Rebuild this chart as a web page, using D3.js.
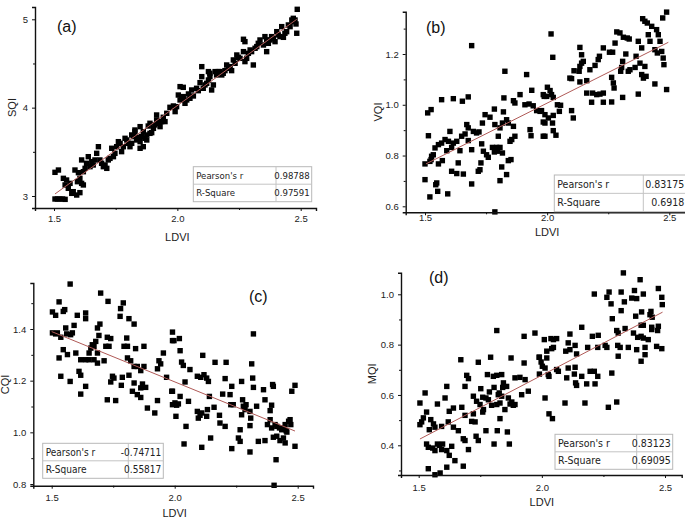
<!DOCTYPE html>
<html><head><meta charset="utf-8">
<script src="https://cdn.jsdelivr.net/npm/d3@7"></script>
<style>
html,body{margin:0;padding:0;background:#fff;}
svg{display:block;}
</style></head>
<body>
<svg id="chart" width="685" height="520"></svg>
<script>
// ---------------- DATA ----------------
const xTicks = [1.5, 2.0, 2.5];
const xMinorTicks = [1.75, 2.25];

// (a) LDVI vs SQI
const pointsA = [[1.504,2.966],[1.514,2.966],[1.524,2.966],[1.535,2.966],[1.545,2.962],[1.504,3.268],[1.518,3.294],[1.538,3.200],[1.551,3.181],[1.545,3.125],[1.558,3.087],[1.565,3.143],[1.572,3.030],[1.578,3.049],[1.592,3.011],[1.605,3.038],[1.595,3.162],[1.605,3.200],[1.612,3.143],[1.619,3.125],[1.585,3.294],[1.599,3.264],[1.612,3.408],[1.626,3.313],[1.632,3.370],[1.639,3.445],[1.619,3.275],[1.646,3.332],[1.653,3.389],[1.659,3.351],[1.666,3.408],[1.673,3.483],[1.680,3.558],[1.686,3.408],[1.693,3.370],[1.700,3.332],[1.707,3.351],[1.714,3.313],[1.720,3.408],[1.727,3.426],[1.734,3.540],[1.741,3.445],[1.747,3.483],[1.754,3.558],[1.761,3.615],[1.768,3.596],[1.774,3.502],[1.781,3.558],[1.788,3.653],[1.795,3.634],[1.801,3.596],[1.808,3.558],[1.815,3.596],[1.822,3.672],[1.828,3.728],[1.835,3.634],[1.842,3.664],[1.849,3.615],[1.855,3.672],[1.862,3.558],[1.869,3.653],[1.876,3.634],[1.849,3.540],[1.828,3.747],[1.815,3.691],[1.849,3.785],[1.862,3.728],[1.876,3.691],[1.882,3.792],[1.889,3.709],[1.896,3.717],[1.903,3.766],[1.889,3.823],[1.909,3.804],[1.916,3.860],[1.923,3.823],[1.930,3.785],[1.936,3.842],[1.916,3.917],[1.943,3.891],[1.957,3.936],[1.950,3.842],[1.970,4.004],[1.991,3.955],[1.984,4.019],[1.997,4.011],[2.011,4.087],[2.004,4.143],[2.018,4.106],[2.024,4.125],[2.031,4.049],[2.038,4.087],[2.045,4.155],[2.051,4.106],[2.011,4.238],[2.024,4.230],[2.058,4.200],[2.065,4.132],[2.078,4.219],[2.085,4.192],[2.092,4.283],[2.099,4.351],[2.105,4.219],[2.112,4.257],[2.119,4.275],[2.126,4.313],[2.132,4.351],[2.139,4.200],[2.146,4.257],[2.126,4.408],[2.132,4.389],[2.153,4.408],[2.159,4.370],[2.166,4.408],[2.173,4.408],[2.180,4.370],[2.186,4.389],[2.193,4.419],[2.200,4.483],[2.207,4.445],[2.214,4.464],[2.220,4.419],[2.227,4.540],[2.234,4.502],[2.241,4.596],[2.247,4.570],[2.254,4.558],[2.268,4.634],[2.274,4.521],[2.281,4.558],[2.288,4.615],[2.268,4.774],[2.274,4.747],[2.295,4.653],[2.301,4.634],[2.308,4.483],[2.315,4.672],[2.322,4.691],[2.328,4.728],[2.335,4.766],[2.349,4.709],[2.355,4.804],[2.362,4.766],[2.369,4.728],[2.362,4.634],[2.376,4.766],[2.382,4.804],[2.389,4.785],[2.396,4.747],[2.403,4.860],[2.409,4.823],[2.416,4.804],[2.423,4.917],[2.430,4.796],[2.436,4.842],[2.443,4.860],[2.450,4.936],[2.457,4.917],[2.464,4.992],[2.470,4.974],[2.477,4.992],[2.481,4.947],[2.486,5.113],[2.484,4.842],[2.470,5.011],[2.099,4.464]];
const fitA = [[1.504,3.023],[2.484,5.0]];
const yTicksA = [3, 4, 5];
const yMinorA = [3.5, 4.5];
const statsA = [["Pearson's r","0.98788"],["R-Square","0.97591"]];

// (b) LDVI vs VQI
const pointsB = [[1.691,1.233],[1.827,1.132],[1.916,1.119],[1.937,1.057],[1.511,0.968],[1.525,0.981],[1.568,1.020],[1.616,1.024],[1.653,1.014],[1.677,1.031],[1.823,1.027],[1.862,1.016],[1.868,1.007],[1.889,1.040],[1.909,1.000],[1.926,1.003],[1.943,0.996],[1.957,0.977],[1.971,0.974],[1.988,1.033],[1.514,0.878],[1.746,0.961],[1.766,0.951],[1.784,0.983],[1.821,0.972],[1.834,0.941],[1.817,0.928],[1.841,0.928],[1.807,0.909],[1.862,0.915],[1.786,0.922],[1.602,0.895],[1.671,0.922],[1.677,0.909],[1.664,0.885],[1.650,0.876],[1.630,0.856],[1.616,0.849],[1.596,0.856],[1.582,0.863],[1.568,0.849],[1.555,0.843],[1.541,0.830],[1.534,0.803],[1.527,0.797],[1.589,0.819],[1.609,0.832],[1.643,0.819],[1.677,0.859],[1.691,0.823],[1.698,0.895],[1.711,0.889],[1.721,0.893],[1.735,0.928],[1.732,0.846],[1.739,0.817],[1.752,0.803],[1.759,0.793],[1.776,0.832],[1.784,0.814],[1.797,0.817],[1.793,0.832],[1.807,0.832],[1.817,0.810],[1.800,0.876],[1.848,0.856],[1.855,0.863],[1.868,0.876],[1.930,0.902],[1.934,0.878],[1.984,0.876],[1.984,0.932],[1.500,0.767],[1.520,0.777],[1.525,0.784],[1.555,0.767],[1.571,0.780],[1.609,0.738],[1.630,0.729],[1.636,0.771],[1.657,0.727],[1.691,0.688],[1.718,0.738],[1.729,0.771],[1.725,0.744],[1.814,0.755],[1.834,0.725],[1.841,0.780],[1.852,0.784],[1.807,0.701],[1.548,0.692],[1.544,0.685],[1.500,0.705],[1.552,0.659],[1.520,0.637],[1.593,0.649],[1.786,0.578],
[2.016,1.279],[2.023,1.187],[2.134,1.226],[2.141,1.197],[2.148,1.171],[2.134,1.151],[2.131,1.132],[2.141,1.164],[2.110,1.134],[2.093,1.105],[2.100,1.103],[2.134,1.090],[2.162,1.095],[2.175,1.138],[2.196,1.155],[2.209,1.178],[2.214,1.191],[2.230,1.224],[2.255,1.207],[2.268,1.207],[2.278,1.243],[2.285,1.287],[2.298,1.283],[2.312,1.266],[2.328,1.263],[2.336,1.259],[2.322,1.200],[2.309,1.171],[2.305,1.147],[2.301,1.132],[2.332,1.132],[2.339,1.138],[2.360,1.147],[2.364,1.191],[2.373,1.250],[2.387,1.224],[2.391,1.339],[2.400,1.329],[2.410,1.322],[2.414,1.276],[2.421,1.250],[2.428,1.309],[2.448,1.296],[2.455,1.276],[2.441,1.217],[2.451,1.204],[2.462,1.250],[2.469,1.210],[2.475,1.184],[2.478,1.158],[2.473,1.342],[2.489,1.365],[2.380,1.164],[2.400,1.151],[2.405,1.112],[2.387,1.119],[2.394,1.105],[2.441,1.082],[2.489,1.060],[2.373,1.042],[2.309,1.029],[2.264,1.108],[2.271,1.086],[2.274,1.066],[2.264,1.011],[2.230,1.010],[2.216,1.042],[2.182,1.010],[2.186,1.046],[2.203,1.040],[2.230,1.046],[2.162,1.046],[2.001,1.069],[2.012,1.056],[1.998,1.033],[1.984,1.040],[2.018,1.040],[2.025,1.029],[2.042,1.000],[2.055,0.998],[2.050,0.974],[1.977,0.977],[1.991,0.961],[2.005,0.948],[2.025,0.958],[1.991,0.928],[2.022,0.928],[2.025,0.898],[2.036,0.880],[1.991,0.876],[2.100,0.977],[2.107,0.948]];
const fitB = [[1.504,0.767],[2.496,1.246]];
const yTicksB = [0.6, 0.8, 1.0, 1.2];
const yMinorB = [0.7, 0.9, 1.1, 1.3];
const statsB = [["Pearson's r","0.83175"],["R-Square","0.6918"]];

// (c) LDVI vs CQI
const pointsC = [[1.575,1.574],[1.699,1.539],[1.729,1.507],[1.791,1.501],[1.530,1.505],[1.503,1.466],[1.516,1.453],[1.547,1.468],[1.553,1.475],[1.604,1.453],[1.638,1.462],[1.638,1.440],[1.780,1.479],[1.778,1.449],[1.814,1.440],[1.835,1.419],[1.696,1.419],[1.686,1.404],[1.591,1.414],[1.557,1.404],[1.503,1.385],[1.516,1.381],[1.523,1.385],[1.537,1.368],[1.561,1.381],[1.577,1.378],[1.584,1.385],[1.692,1.375],[1.679,1.352],[1.665,1.339],[1.672,1.333],[1.726,1.368],[1.740,1.363],[1.720,1.333],[1.733,1.333],[1.794,1.333],[1.808,1.333],[1.841,1.324],[1.875,1.333],[1.805,1.365],[1.686,1.307],[1.659,1.326],[1.652,1.307],[1.598,1.307],[1.564,1.301],[1.547,1.320],[1.530,1.288],[1.618,1.281],[1.638,1.281],[1.652,1.281],[1.672,1.281],[1.686,1.268],[1.713,1.277],[1.808,1.288],[1.821,1.277],[1.835,1.255],[1.848,1.255],[1.862,1.239],[1.875,1.255],[1.936,1.277],[1.943,1.265],[1.954,1.307],[1.930,1.246],[1.967,1.213],[1.991,1.388],[1.991,1.355],[1.611,1.236],[1.618,1.221],[1.537,1.217],[1.575,1.197],[1.638,1.178],[1.618,1.148],[1.747,1.217],[1.753,1.210],[1.740,1.195],[1.787,1.213],[1.814,1.221],[1.783,1.182],[1.835,1.191],[1.828,1.159],[1.848,1.146],[1.862,1.172],[1.869,1.187],[1.862,1.135],[1.882,1.174],[1.726,1.126],[1.760,1.123],[1.889,1.094],[1.919,1.075],[1.930,1.123],[1.991,1.159],[1.991,1.107],
[1.997,1.355],[2.019,1.363],[2.022,1.316],[2.028,1.272],[2.035,1.259],[2.062,1.243],[2.092,1.217],[2.106,1.213],[2.119,1.223],[2.130,1.210],[2.137,1.197],[2.114,1.298],[2.164,1.271],[2.209,1.271],[2.205,1.208],[2.232,1.178],[2.272,1.197],[2.313,1.265],[2.317,1.210],[2.320,1.381],[2.320,1.174],[2.361,1.165],[2.398,1.185],[2.401,1.178],[2.476,1.159],[2.489,1.182],[1.988,1.159],[2.022,1.139],[2.042,1.195],[2.056,1.120],[2.001,1.114],[2.008,1.105],[2.015,1.110],[2.005,1.062],[2.046,1.023],[2.038,0.955],[2.092,1.081],[2.096,1.055],[2.103,1.066],[2.110,1.075],[2.130,1.062],[2.133,1.088],[2.141,1.139],[2.160,1.097],[2.182,1.066],[2.184,1.036],[2.195,1.148],[2.205,1.023],[2.225,1.146],[2.228,1.107],[2.238,1.107],[2.266,1.010],[2.259,0.978],[2.266,0.965],[2.276,1.126],[2.279,1.101],[2.286,1.088],[2.272,1.068],[2.290,1.107],[2.306,1.081],[2.309,1.055],[2.306,1.026],[2.333,1.101],[2.367,1.126],[2.377,1.030],[2.394,1.105],[2.388,1.049],[2.388,1.084],[2.394,1.017],[2.408,1.030],[2.415,1.023],[2.426,1.017],[2.435,1.010],[2.442,1.017],[2.449,1.030],[2.453,1.006],[2.463,1.043],[2.456,1.001],[2.469,1.049],[2.472,1.030],[2.442,0.978],[2.449,0.959],[2.428,0.968],[2.415,0.985],[2.401,0.981],[2.367,0.968],[2.340,0.965],[2.306,0.924],[2.232,0.937],[2.146,0.978],[2.110,0.942],[2.489,0.946],[2.412,0.894],[2.404,0.795]];
const fitC = [[1.5,1.39],[2.489,1.005]];
const yTicksC = [0.8, 1.0, 1.2, 1.4];
const yMinorC = [0.9, 1.1, 1.3, 1.5];
const statsC = [["Pearson's r","-0.74711"],["R-Square","0.55817"]];

// (d) LDVI vs MQI
const pointsD = [[1.817,0.856],[1.972,0.846],[1.928,0.833],[1.671,0.740],[1.742,0.730],[1.792,0.750],[1.875,0.747],[1.928,0.727],[1.990,0.750],[1.695,0.678],[1.702,0.665],[1.779,0.681],[1.803,0.674],[1.817,0.678],[1.837,0.681],[1.891,0.668],[1.911,0.670],[1.932,0.661],[1.990,0.683],[1.614,0.634],[1.688,0.634],[1.752,0.625],[1.787,0.612],[1.806,0.630],[1.827,0.608],[1.841,0.630],[1.857,0.634],[1.844,0.648],[1.526,0.608],[1.505,0.568],[1.576,0.564],[1.607,0.588],[1.641,0.548],[1.624,0.535],[1.675,0.551],[1.722,0.595],[1.735,0.575],[1.749,0.562],[1.760,0.591],[1.773,0.588],[1.783,0.581],[1.796,0.559],[1.817,0.562],[1.823,0.601],[1.830,0.568],[1.837,0.595],[1.864,0.588],[1.878,0.572],[1.884,0.559],[1.891,0.562],[1.918,0.601],[1.945,0.615],[1.532,0.532],[1.519,0.509],[1.549,0.502],[1.560,0.485],[1.566,0.472],[1.543,0.462],[1.505,0.482],[1.512,0.493],[1.593,0.475],[1.620,0.493],[1.641,0.472],[1.661,0.458],[1.688,0.519],[1.722,0.525],[1.715,0.495],[1.729,0.493],[1.763,0.542],[1.760,0.532],[1.830,0.506],[1.850,0.542],[1.871,0.564],[1.773,0.458],[1.819,0.458],[1.860,0.453],[1.681,0.426],[1.688,0.419],[1.733,0.436],[1.742,0.419],[1.702,0.383],[1.806,0.405],[1.868,0.405],[1.532,0.405],[1.539,0.392],[1.557,0.389],[1.576,0.405],[1.584,0.400],[1.597,0.405],[1.566,0.379],[1.593,0.383],[1.614,0.379],[1.634,0.396],[1.624,0.360],[1.647,0.339],[1.681,0.317],[1.614,0.313],[1.539,0.307],[1.566,0.283],[1.587,0.290],
[2.331,1.085],[2.399,1.058],[2.213,1.001],[2.273,1.009],[2.322,1.009],[2.376,1.015],[2.412,1.001],[2.473,1.023],[2.264,0.988],[2.365,0.985],[2.281,0.962],[2.335,0.970],[2.385,0.983],[2.487,0.988],[2.489,0.959],[2.322,0.935],[2.405,0.930],[2.443,0.932],[2.439,0.919],[2.381,0.913],[2.448,0.909],[2.286,0.903],[2.162,0.869],[2.010,0.820],[2.037,0.824],[2.047,0.820],[2.060,0.824],[2.114,0.842],[2.205,0.833],[2.229,0.837],[2.304,0.856],[2.310,0.846],[2.338,0.864],[2.372,0.846],[2.403,0.877],[2.412,0.877],[2.446,0.869],[2.473,0.873],[2.470,0.856],[2.389,0.829],[2.403,0.833],[2.412,0.826],[2.432,0.820],[2.446,0.860],[2.047,0.789],[2.040,0.784],[2.020,0.774],[2.107,0.807],[2.135,0.797],[2.097,0.774],[2.114,0.780],[2.141,0.763],[2.186,0.789],[2.227,0.789],[2.257,0.797],[2.264,0.789],[2.308,0.797],[2.318,0.789],[2.351,0.789],[2.385,0.780],[2.466,0.793],[2.487,0.784],[1.989,0.750],[1.997,0.731],[2.020,0.747],[2.002,0.714],[2.013,0.707],[2.026,0.681],[2.029,0.674],[2.060,0.701],[2.067,0.694],[2.107,0.707],[2.135,0.710],[2.101,0.668],[2.132,0.683],[2.137,0.648],[2.141,0.638],[2.162,0.674],[2.182,0.644],[2.196,0.694],[2.213,0.694],[2.216,0.644],[2.227,0.674],[2.284,0.687],[2.310,0.754],[2.419,0.789],[2.419,0.760],[2.403,0.734],[2.013,0.588],[2.094,0.568],[2.175,0.568],[2.270,0.551],[2.304,0.572],[2.029,0.525],[2.043,0.506]];
const fitD = [[1.505,0.425],[2.49,0.929]];
const yTicksD = [0.4, 0.6, 0.8, 1.0];
const yMinorD = [0.3, 0.5, 0.7, 0.9];
const statsD = [["Pearson's r","0.83123"],["R-Square","0.69095"]];

// ---------------- LAYOUT ----------------
const panels = [
  {pts: pointsA, fit: fitA, yt: yTicksA, ym: yMinorA, stats: statsA, yName: "SQI", tag: "(a)", yDom: [3, 5],
   left: 35, right: 316, top: 7, bottom: 208, xr: [54, 300.7], yr: [196, 19.3], xPad: 4,
   tagPos: [57, 32], yLabBase: 16, xLabY: 240.5, tbl: {x: 193.3, y: 166.7, w: 118.4, h: 35, cx: 82.7, fs: 9.5}, tickFmt: d3.format("d")},
  {pts: pointsB, fit: fitB, yt: yTicksB, ym: yMinorB, stats: statsB, yName: "VQI", tag: "(b)", yDom: [0.6, 1.2],
   left: 405.7, right: 686, top: 11.7, bottom: 212.3, xr: [425, 669.3], yr: [206.3, 54], xPad: -1.5,
   tagPos: [426, 33], yLabBase: 381.5, xLabY: 235.5, tbl: {x: 554.3, y: 175, w: 132, h: 36.7, cx: 89, fs: 10.5}, tickFmt: d3.format(".1f")},
  {pts: pointsC, fit: fitC, yt: yTicksC, ym: yMinorC, stats: statsC, yName: "CQI", tag: "(c)", yDom: [0.8, 1.4],
   left: 33.3, right: 313, top: 283, bottom: 485.7, xr: [51.7, 297.7], yr: [484, 329], xPad: 6,
   tagPos: [249, 302], yLabBase: 9, xLabY: 517, tbl: {x: 42.7, y: 443.3, w: 120.6, h: 35, cx: 85.6, fs: 10}, tickFmt: d3.format(".1f")},
  {pts: pointsD, fit: fitD, yt: yTicksD, ym: yMinorD, stats: statsD, yName: "MQI", tag: "(d)", yDom: [0.4, 1.0],
   left: 401, right: 681.7, top: 272.7, bottom: 475, xr: [418.7, 665], yr: [445.3, 294.3], xPad: 6,
   tagPos: [429, 283], yLabBase: 375.5, xLabY: 505.5, tbl: {x: 555, y: 434.3, w: 117.7, h: 35, cx: 81.7, fs: 10.5}, tickFmt: d3.format(".1f")}
];

const svg = d3.select("#chart");
const tickFont = "'Liberation Sans', Arial, sans-serif";
const narrowFont = "'Liberation Sans Narrow', 'Arial Narrow', 'DejaVu Sans Condensed', sans-serif";

panels.forEach(p => {
  const g = svg.append("g");
  const xBase = d3.scaleLinear().domain([1.5, 2.5]).range(p.xr);
  const yBase = d3.scaleLinear().domain(p.yDom).range(p.yr);
  const x = xBase.copy().domain([xBase.invert(p.left), xBase.invert(p.right)]).range([p.left, p.right]);
  const y = yBase.copy().domain([yBase.invert(p.bottom), yBase.invert(p.top)]).range([p.bottom, p.top]);

  // points
  const s = 5.4;
  g.append("g").selectAll("rect").data(p.pts).join("rect")
    .attr("x", d => x(d[0]) - s / 2).attr("y", d => y(d[1]) - s / 2)
    .attr("width", s).attr("height", s).attr("fill", "#000");

  // fit line
  g.append("line")
    .attr("x1", x(p.fit[0][0])).attr("y1", y(p.fit[0][1]))
    .attr("x2", x(p.fit[1][0])).attr("y2", y(p.fit[1][1]))
    .attr("stroke", "#b05a57").attr("stroke-width", 1);

  // x axis
  g.append("g").attr("transform", `translate(0,${p.bottom})`)
    .call(d3.axisBottom(x).tickValues(xTicks).tickFormat(d3.format(".1f")).tickSizeOuter(0).tickSize(3).tickPadding(p.xPad));
  g.append("g").attr("transform", `translate(0,${p.bottom})`)
    .call(d3.axisBottom(x).tickValues(xMinorTicks).tickFormat("").tickSizeOuter(0).tickSize(2))
    .call(a => a.select(".domain").remove());
  // y axis
  g.append("g").attr("transform", `translate(${p.left},0)`)
    .call(d3.axisLeft(y).tickValues(p.yt).tickFormat(p.tickFmt).tickSizeOuter(0).tickSize(3).tickPadding(4));
  g.append("g").attr("transform", `translate(${p.left},0)`)
    .call(d3.axisLeft(y).tickValues(p.ym.filter(v => y(v) >= p.top && y(v) <= p.bottom)).tickFormat("").tickSizeOuter(0).tickSize(2))
    .call(a => a.select(".domain").remove());

  g.selectAll(".domain").attr("stroke", "#111").attr("stroke-width", 1.4);
  g.selectAll(".tick line").attr("stroke", "#111").attr("stroke-width", 1);
  g.selectAll(".tick text").attr("font-family", tickFont).attr("font-size", 9.5).attr("fill", "#222");

  // axis titles
  g.append("text").attr("x", (p.xr[0] + p.xr[1]) / 2).attr("y", p.xLabY)
    .attr("text-anchor", "middle").attr("font-family", tickFont).attr("font-size", 11).attr("fill", "#222").text("LDVI");
  g.append("text").attr("transform", `translate(${p.yLabBase},${(p.top + p.bottom) / 2}) rotate(-90)`)
    .attr("text-anchor", "middle").attr("font-family", tickFont).attr("font-size", 11).attr("fill", "#222").text(p.yName);

  // panel tag
  g.append("text").attr("x", p.tagPos[0]).attr("y", p.tagPos[1])
    .attr("font-family", tickFont).attr("font-size", 16).attr("fill", "#111").text(p.tag);

  // stats table
  const t = p.tbl;
  const tg = g.append("g").attr("transform", `translate(${t.x},${t.y})`);
  tg.append("rect").attr("width", t.w).attr("height", t.h).attr("fill", "#fff").attr("stroke", "#b8b8b8").attr("stroke-width", 1);
  tg.append("line").attr("x1", 0).attr("x2", t.w).attr("y1", t.h / 2).attr("y2", t.h / 2).attr("stroke", "#c4c4c4");
  tg.append("line").attr("x1", t.cx).attr("x2", t.cx).attr("y1", 0).attr("y2", t.h).attr("stroke", "#c4c4c4");
  p.stats.forEach((r, i) => {
    const cy = t.h / 4 + i * t.h / 2 + t.fs * 0.35;
    tg.append("text").attr("x", 3).attr("y", cy).attr("font-family", narrowFont).attr("font-stretch", "condensed")
      .attr("font-size", t.fs).attr("fill", "#222").text(r[0]);
    tg.append("text").attr("x", t.w - 2).attr("y", cy).attr("text-anchor", "end").attr("font-family", narrowFont).attr("font-stretch", "condensed")
      .attr("font-size", t.fs).attr("fill", "#222").text(r[1]);
  });
});
</script>
</body></html>
